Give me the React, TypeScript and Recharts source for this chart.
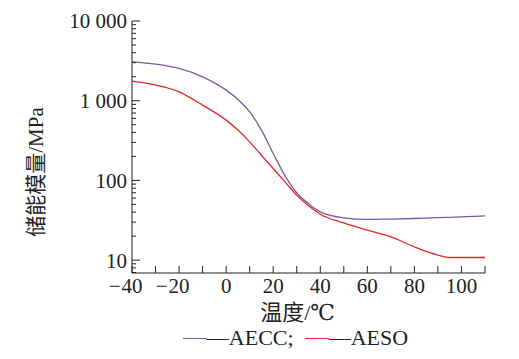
import { LineChart, Line, XAxis, YAxis, Legend } from 'recharts'

const temps = [-40, -30, -20, -10, 0, 5, 10, 15, 20, 25, 30, 35, 40, 50, 60, 70, 80, 90, 95, 100, 110]
const aecc = [3075, 2877, 2541, 1995, 1358, 1038, 726, 428, 218, 115, 70, 51, 40.4, 34, 32.4, 32.8, 33.3, 34.2, 34.5, 34.9, 35.9]
const aeso = [1762, 1570, 1294, 881, 571, 428, 305, 207, 141, 96, 65.5, 48, 37.7, 29.4, 23.8, 19.6, 14.7, 11.6, 10.8, 10.8, 10.8]

const xTicks = [-40, -30, -20, -10, 0, 10, 20, 30, 40, 50, 60, 70, 80, 90, 100, 110]
const xLabels = [-40, -20, 0, 20, 40, 60, 80, 100]
const yTicks = [
  7, 8, 9, 10, 20, 30, 40, 50, 60, 70, 80, 90, 100, 200, 300, 400, 500, 600, 700, 800, 900,
  1000, 2000, 3000, 4000, 5000, 6000, 7000, 8000, 9000, 10000,
]
const yLabels: Record<number, string> = { 10: '10', 100: '100', 1000: '1 000', 10000: '10 000' }

const FONT = '"Liberation Serif", "DejaVu Serif", "Noto Sans CJK SC", serif'
const INK = '#222'

const data = temps.map((t, i) => ({ t, AECC: aecc[i], AESO: aeso[i] }))

const textStyle = { fontFamily: FONT, fontSize: 21, fill: INK }

const YTick = ({ x, y, payload }: any) => {
  const label = yLabels[payload.value]
  return (
    <g>
      <line x1={x} x2={x + (label ? 8 : 4)} y1={y} y2={y} stroke={INK} strokeWidth={1} />
      {label && (
        <text x={x - 5} y={y} dy="0.35em" textAnchor="end" style={textStyle}>
          {label}
        </text>
      )}
    </g>
  )
}

const XTick = ({ x, y, payload }: any) => {
  const v = payload.value
  const show = xLabels.includes(v)
  const digits = String(Math.abs(v))
  const half = (digits.length * 10.5) / 2
  return (
    <g>
      <line x1={x} x2={x} y1={y} y2={y - 7} stroke={INK} strokeWidth={1} />
      {show && (
        <text x={x} y={y + 20} textAnchor="middle" style={textStyle}>
          {digits}
        </text>
      )}
      {show && v < 0 && (
        <text x={x - half - 1} y={y + 20} textAnchor="end" style={textStyle}>
          −
        </text>
      )}
    </g>
  )
}

const renderLegend = ({ payload }: any) => (
  <div
    style={{
      display: 'flex',
      justifyContent: 'center',
      alignItems: 'center',
      paddingLeft: 72,
      fontFamily: FONT,
      fontSize: 22,
      color: INK,
    }}
  >
    {payload.map((entry: any, i: number) => (
      <span key={entry.value} style={{ display: 'flex', alignItems: 'center', marginRight: i < payload.length - 1 ? 11 : 0 }}>
        <span style={{ display: 'inline-block', width: 24, height: 0, borderTop: `1.3px solid ${entry.color}` }} />
        <span>
          —{entry.value}
          {i < payload.length - 1 ? ';' : ''}
        </span>
      </span>
    ))}
  </div>
)

export default function App() {
  return (
    <div style={{ position: 'absolute', left: 0, top: 0, width: 519, height: 359, background: '#fff' }}>
      <LineChart width={519} height={359} data={data} margin={{ top: 21, right: 34, left: 0, bottom: 56 }}>
        <XAxis
          dataKey="t"
          type="number"
          domain={[-40, 110]}
          ticks={xTicks}
          allowDataOverflow
          height={30}
          tickSize={0}
          tickMargin={0}
          tickLine={false}
          axisLine={{ stroke: INK, strokeWidth: 1 }}
          tick={<XTick />}
          interval={0}
          label={({ viewBox }: any) => (
            <text
              x={viewBox.x + viewBox.width / 2 - 11}
              y={viewBox.y + 47}
              textAnchor="middle"
              style={{ ...textStyle, fontSize: 22 }}
            >
              温度/℃
            </text>
          )}
        />
        <YAxis
          type="number"
          scale="log"
          domain={[6.9, 10000]}
          ticks={yTicks}
          allowDataOverflow
          width={132}
          tickSize={0}
          tickMargin={0}
          tickLine={false}
          axisLine={{ stroke: INK, strokeWidth: 1 }}
          tick={<YTick />}
          interval={0}
          label={({ viewBox }: any) => {
            const cx = viewBox.x + 36
            const cy = viewBox.y + viewBox.height / 2 + 25
            return (
              <text
                x={cx}
                y={cy}
                transform={`rotate(-90 ${cx} ${cy})`}
                textAnchor="middle"
                dominantBaseline="central"
                style={textStyle}
              >
                储能模量/MPa
              </text>
            )
          }}
        />
        <Line
          type="monotone"
          dataKey="AECC"
          stroke="#7a5a9e"
          strokeWidth={1.3}
          dot={false}
          activeDot={false}
          isAnimationActive={false}
        />
        <Line
          type="monotone"
          dataKey="AESO"
          stroke="#e5232b"
          strokeWidth={1.3}
          dot={false}
          activeDot={false}
          isAnimationActive={false}
        />
        <Legend
          verticalAlign="middle"
          align="center"
          content={renderLegend}
          wrapperStyle={{ position: 'absolute', left: 0, top: 325, width: 519 }}
        />
      </LineChart>
    </div>
  )
}
